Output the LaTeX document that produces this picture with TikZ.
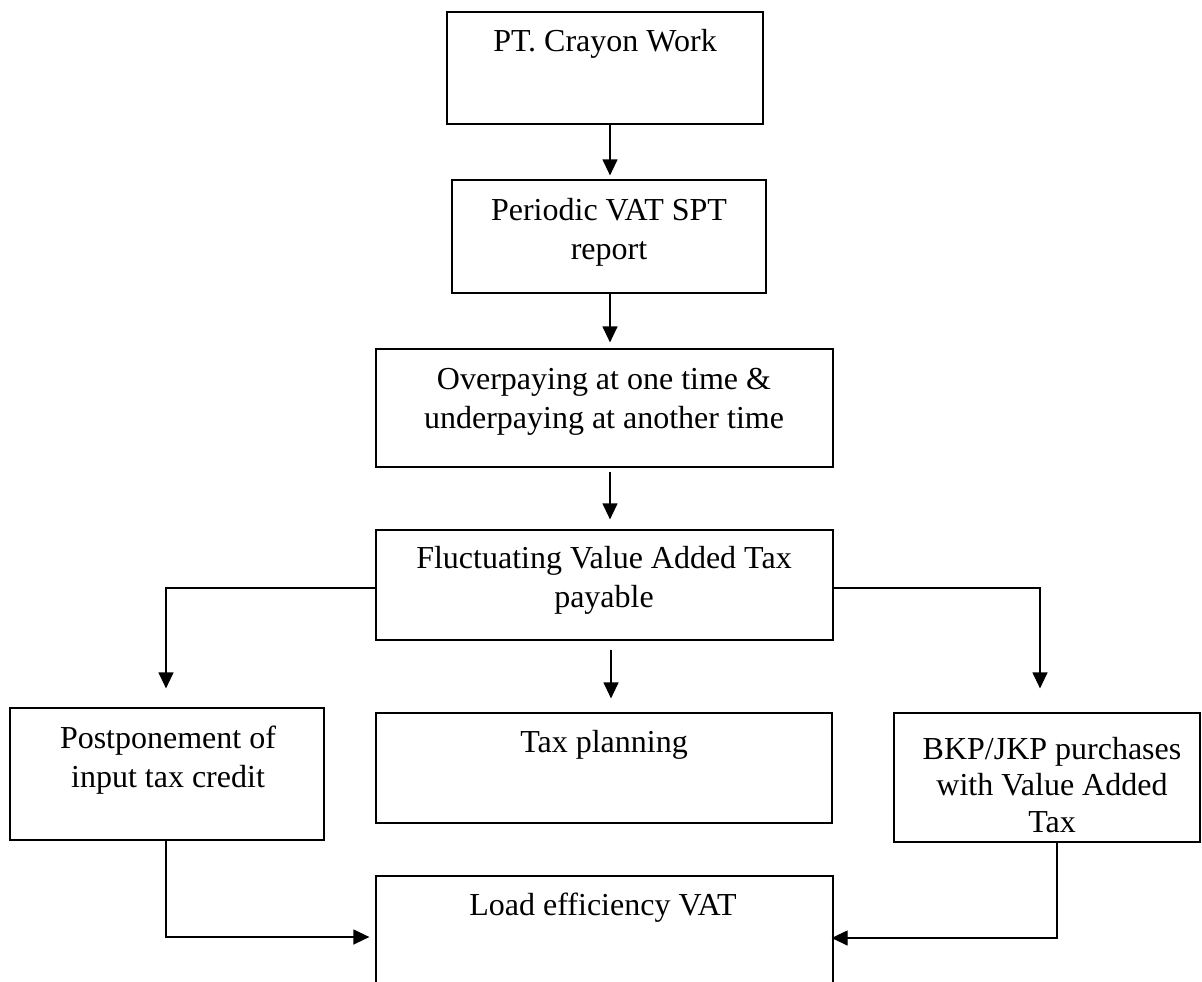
\documentclass[tikz,border=0pt]{standalone}
\usepackage{fontspec}
\setmainfont{Liberation Serif}
\usetikzlibrary{arrows.meta,calc}
\tikzset{
  box/.style={draw=black, line width=1.2pt, rectangle, inner sep=0pt},
  lbl/.style={anchor=base, align=center, inner sep=0pt, font=\fontsize{32}{38.5}\selectfont},
  arr/.style={draw=black, line width=1.2pt, -{Triangle[length=16pt,width=15pt]}},
  ln/.style={draw=black, line width=1.2pt}
}
\begin{document}
\begin{tikzpicture}[x=1pt,y=-1pt]
\useasboundingbox (0,0) rectangle (1202,982);
\clip (0,0) rectangle (1202,982);
% boxes
\node[box, minimum width=316pt, minimum height=112pt] (b1) at (605,68) {};
\node[box, minimum width=314pt, minimum height=113pt] (b2) at (609,236.5) {};
\node[box, minimum width=457pt, minimum height=118pt] (b3) at (604.5,408) {};
\node[box, minimum width=457pt, minimum height=110pt] (b4) at (604.5,585) {};
\node[box, minimum width=314pt, minimum height=132pt] (b5) at (167,774) {};
\node[box, minimum width=456pt, minimum height=110pt] (b6) at (604,768) {};
\node[box, minimum width=306pt, minimum height=129pt] (b7) at (1047,777.5) {};
\node[box, minimum width=457pt, minimum height=130pt] (b8) at (604.5,941) {};
% texts (anchor = baseline of last line)
\node[lbl] (t1) at (605,52) {PT. Crayon Work};
\node[lbl] (t2) at (609,259) {Periodic VAT SPT\\report};
\node[lbl] (t3) at (604,428) {Overpaying at one time \&\\underpaying at another time};
\node[lbl] (t4) at (604,607) {Fluctuating Value Added Tax\\payable};
\node[lbl] (t5) at (168,787) {Postponement of\\input tax credit};
\node[lbl] (t6) at (604,752) {Tax planning};
\node[lbl, font=\fontsize{32}{36.5}\selectfont] (t7) at (1052,832) {BKP/JKP purchases\\with Value Added\\Tax};
\node[lbl] (t8) at (603,915) {Load efficiency VAT};
% connector coordinates
\coordinate (c1) at (610,0);
\coordinate (c4) at (611,0);
\coordinate (cl) at (166,0);
\coordinate (cr) at (1040,0);
\coordinate (cb) at (1057,0);
% vertical arrows
\draw[arr, shorten >=4pt] (b1.south -| c1) -- (b2.north -| c1);
\draw[arr, shorten >=6pt] (b2.south -| c1) -- (b3.north -| c1);
\draw[arr, shorten <=4pt, shorten >=10pt] (b3.south -| c1) -- (b4.north -| c1);
\draw[arr, shorten <=9pt, shorten >=14pt] (b4.south -| c4) -- (b6.north -| c4);
% side branches
\draw[arr, shorten >=19pt] (b4.west |- 0,588) -| (b5.north -| cl);
\draw[arr, shorten >=24pt] (b4.east |- 0,588) -| (b7.north -| cr);
% bottom joins
\draw[arr, shorten >=6pt] (b5.south -| cl) |- (b8.west |- 0,937);
\draw[arr, shorten >=-2pt] (b7.south -| cb) |- (b8.east |- 0,938);
\end{tikzpicture}
\end{document}
